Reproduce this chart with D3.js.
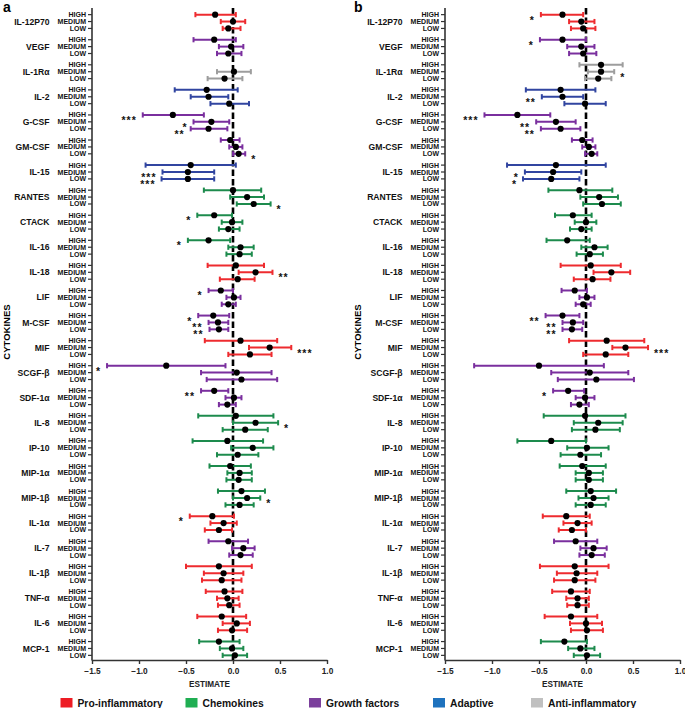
<!DOCTYPE html>
<html><head><meta charset="utf-8">
<script src="https://cdn.jsdelivr.net/npm/d3@7"></script>
<style>
body{margin:0;background:#fff;}
svg{display:block;font-family:"Liberation Sans",Arial,sans-serif;}
</style></head>
<body>
<svg id="chart" width="685" height="708"></svg>
<script>
// ---------- DATA ----------
const cytokines = ["IL-12P70","VEGF","IL-1Rα","IL-2","G-CSF","GM-CSF","IL-15","RANTES","CTACK","IL-16","IL-18","LIF","M-CSF","MIF","SCGF-β","SDF-1α","IL-8","IP-10","MIP-1α","MIP-1β","IL-1α","IL-7","IL-1β","TNF-α","IL-6","MCP-1"];
const cytokineClass = ["pro","growth","anti","adaptive","growth","growth","adaptive","chemo","chemo","chemo","pro","growth","growth","pro","growth","growth","chemo","chemo","chemo","chemo","pro","growth","pro","pro","pro","chemo"];
const levels = ["HIGH","MEDIUM","LOW"];
const classKeys = ["pro","chemo","growth","adaptive","anti"];
const classNames = ["Pro-inflammatory","Chemokines","Growth factors","Adaptive","Anti-inflammatory"];
const xTicks = [-1.5,-1.0,-0.5,0.0,0.5,1.0];

// Panel a: [HIGH, MEDIUM, LOW] per cytokine, each [low, estimate, high]
const panelA = [
 [[-0.40,-0.19,0.03],[-0.13,0.00,0.13],[-0.11,-0.05,0.08]],
 [[-0.42,-0.20,0.03],[-0.15,-0.02,0.11],[-0.17,-0.05,0.09]],
 [null,[-0.17,0.01,0.19],[-0.27,-0.09,0.10]],
 [[-0.62,-0.28,0.05],[-0.45,-0.26,-0.05],[-0.24,-0.04,0.17]],
 [[-0.96,-0.64,-0.31],[-0.42,-0.23,-0.04],[-0.45,-0.26,-0.06]],
 [[-0.13,-0.03,0.07],[-0.04,0.03,0.10],[0.00,0.06,0.13]],
 [[-0.93,-0.45,0.03],[-0.75,-0.48,-0.20],[-0.76,-0.48,-0.20]],
 [[-0.31,0.00,0.30],[-0.03,0.15,0.33],[0.04,0.22,0.40]],
 [[-0.38,-0.20,-0.01],[-0.12,-0.01,0.10],[-0.15,-0.05,0.07]],
 [[-0.48,-0.26,-0.03],[-0.05,0.08,0.22],[-0.07,0.07,0.20]],
 [[-0.27,0.03,0.33],[0.06,0.24,0.42],[-0.14,0.05,0.23]],
 [[-0.26,-0.13,0.00],[-0.07,0.01,0.08],[-0.12,-0.05,0.03]],
 [[-0.37,-0.21,-0.04],[-0.26,-0.16,-0.05],[-0.25,-0.15,-0.05]],
 [[-0.30,0.08,0.47],[0.17,0.39,0.62],[-0.05,0.18,0.41]],
 [[-1.34,-0.71,-0.08],[-0.34,0.04,0.41],[-0.28,0.09,0.47]],
 [[-0.34,-0.20,-0.05],[-0.08,0.01,0.09],[-0.15,-0.06,0.03]],
 [[-0.37,0.03,0.43],[0.00,0.24,0.48],[-0.11,0.13,0.37]],
 [[-0.43,-0.06,0.32],[-0.02,0.21,0.43],[-0.17,0.05,0.27]],
 [[-0.25,-0.03,0.19],[-0.06,0.07,0.20],[-0.07,0.06,0.20]],
 [[-0.16,0.09,0.34],[0.00,0.15,0.29],[-0.08,0.07,0.22]],
 [[-0.46,-0.22,0.01],[-0.24,-0.10,0.04],[-0.30,-0.15,-0.01]],
 [[-0.26,-0.05,0.16],[-0.01,0.11,0.23],[-0.04,0.08,0.21]],
 [[-0.50,-0.15,0.20],[-0.31,-0.10,0.11],[-0.33,-0.12,0.09]],
 [[-0.29,-0.09,0.10],[-0.17,-0.06,0.06],[-0.16,-0.04,0.07]],
 [[-0.38,-0.12,0.14],[-0.11,0.04,0.18],[-0.16,-0.01,0.15]],
 [[-0.36,-0.15,0.07],[-0.14,-0.01,0.11],[-0.11,0.02,0.15]]
];
const starsA = [
 ["","",""],["","",""],["","",""],["","",""],["***","*","**"],["","","*"],["","***","***"],["","","*"],["*","",""],["*","",""],
 ["","**",""],["*","",""],["*","**","**"],["","***",""],["*","",""],["**","",""],["","*",""],["","",""],["","",""],["","*",""],
 ["*","",""],["","",""],["","",""],["","",""],["","",""],["","",""]
];

// Panel b
const panelB = [
 [[-0.48,-0.25,-0.03],[-0.18,-0.05,0.09],[-0.16,-0.03,0.10]],
 [[-0.49,-0.25,0.00],[-0.20,-0.05,0.09],[-0.18,-0.03,0.11]],
 [[-0.07,0.16,0.39],[0.02,0.16,0.30],[-0.01,0.13,0.27]],
 [[-0.64,-0.27,0.10],[-0.47,-0.25,-0.03],[-0.23,-0.01,0.21]],
 [[-1.08,-0.73,-0.38],[-0.53,-0.32,-0.11],[-0.48,-0.27,-0.06]],
 [[-0.15,-0.04,0.07],[-0.04,0.03,0.10],[-0.01,0.06,0.12]],
 [[-0.84,-0.32,0.21],[-0.65,-0.35,-0.05],[-0.67,-0.37,-0.07]],
 [[-0.40,-0.07,0.28],[-0.06,0.14,0.34],[-0.03,0.17,0.37]],
 [[-0.33,-0.14,0.06],[-0.12,0.00,0.11],[-0.17,-0.05,0.06]],
 [[-0.42,-0.20,0.04],[-0.05,0.09,0.23],[-0.10,0.04,0.18]],
 [[-0.27,0.05,0.37],[0.08,0.27,0.47],[-0.13,0.07,0.26]],
 [[-0.26,-0.12,0.01],[-0.07,0.01,0.09],[-0.11,-0.03,0.05]],
 [[-0.43,-0.25,-0.07],[-0.25,-0.14,-0.03],[-0.25,-0.15,-0.04]],
 [[-0.18,0.22,0.62],[0.28,0.42,0.66],[-0.03,0.21,0.45]],
 [[-1.19,-0.50,0.19],[-0.37,0.04,0.45],[-0.30,0.11,0.51]],
 [[-0.35,-0.19,-0.02],[-0.11,-0.01,0.09],[-0.16,-0.07,0.03]],
 [[-0.45,-0.01,0.42],[-0.13,0.13,0.39],[-0.15,0.10,0.36]],
 [[-0.73,-0.37,0.00],[-0.20,0.01,0.24],[-0.27,-0.06,0.16]],
 [[-0.28,-0.04,0.21],[-0.11,0.03,0.18],[-0.11,0.03,0.18]],
 [[-0.21,0.05,0.32],[-0.08,0.08,0.24],[-0.11,0.05,0.21]],
 [[-0.46,-0.21,0.04],[-0.24,-0.09,0.06],[-0.29,-0.15,0.00]],
 [[-0.34,-0.11,0.12],[-0.06,0.08,0.22],[-0.07,0.06,0.20]],
 [[-0.49,-0.12,0.24],[-0.31,-0.10,0.12],[-0.34,-0.12,0.10]],
 [[-0.36,-0.16,0.04],[-0.21,-0.09,0.03],[-0.20,-0.09,0.03]],
 [[-0.44,-0.16,0.12],[-0.17,0.00,0.17],[-0.16,0.01,0.18]],
 [[-0.48,-0.23,0.01],[-0.19,-0.06,0.09],[-0.13,0.01,0.15]]
];
const starsB = [
 ["*","",""],["*","",""],["","*",""],["","**",""],["***","**","**"],["","",""],["","*","*"],["","",""],["","",""],["","",""],
 ["","",""],["","",""],["**","**","**"],["","***",""],["","",""],["*","",""],["","",""],["","",""],["","",""],["","",""],
 ["","",""],["","",""],["","",""],["","",""],["","",""],["","",""]
];

// ---------- STYLE ----------
const barColor = {pro:"#ee2b2f", chemo:"#1d8b4d", growth:"#7a2f9e", adaptive:"#3145a0", anti:"#9d9d9d"};
const legendColor = {pro:"#ed1c24", chemo:"#1fae52", growth:"#7b3f9c", adaptive:"#1e72be", anti:"#c0c0c0"};

const svg = d3.select("#chart");
const yTop = 8, yBottom = 660;

const yGroup = d3.scaleBand().domain(cytokines).range([9, 661]);
const yLevel = d3.scalePoint().domain(levels).range([-6.9, 6.9]);
const rowY = (c, l) => yGroup(c) + yGroup.bandwidth()/2 + yLevel(l);

function drawPanel(cfg) {
  const g = svg.append("g");
  const x = d3.scaleLinear().domain([-1.5, 1.0]).range([cfg.x0, cfg.x1]);

  g.append("text").attr("x", cfg.letterX).attr("y", 12).attr("font-size", 14)
    .attr("font-weight", "bold").text(cfg.letter);

  g.append("line").attr("x1", cfg.x0).attr("x2", cfg.x0).attr("y1", yTop).attr("y2", yBottom + 0.5)
    .attr("stroke", "#333").attr("stroke-width", 1.6);

  const rows = [];
  cytokines.forEach((c, i) => levels.forEach((l, j) => {
    rows.push({c, i, l, v: cfg.data[i][j], s: cfg.stars[i][j], cls: cytokineClass[i]});
  }));

  g.selectAll(".rt").data(rows).join("line")
    .attr("x1", cfg.x0 - 4).attr("x2", cfg.x0).attr("y1", d => rowY(d.c, d.l)).attr("y2", d => rowY(d.c, d.l))
    .attr("stroke", "#333").attr("stroke-width", 1.2);
  g.selectAll(".rl").data(rows).join("text")
    .attr("x", cfg.x0 - 6).attr("y", d => rowY(d.c, d.l)).attr("dy", "0.36em")
    .attr("text-anchor", "end").attr("font-size", 7).attr("font-weight", "bold").attr("fill", "#111")
    .text(d => d.l);

  g.selectAll(".cl").data(cytokines).join("text")
    .attr("x", cfg.labelX).attr("y", d => rowY(d, "MEDIUM")).attr("dy", "0.36em")
    .attr("text-anchor", "end").attr("font-size", 8.6).attr("font-weight", "bold").attr("fill", "#111")
    .text(d => d);

  g.append("text").attr("transform", `translate(${cfg.titleX},${(yTop + yBottom) / 2 - 2}) rotate(-90)`)
    .attr("text-anchor", "middle").attr("font-size", 9.5).attr("font-weight", "bold").text("CYTOKINES");

  const ax = g.append("g").attr("transform", `translate(0,${yBottom})`)
    .call(d3.axisBottom(x).tickValues(xTicks).tickFormat(d3.format(".1f")).tickSize(4).tickSizeOuter(0));
  ax.select(".domain").attr("stroke", "#333").attr("stroke-width", 1.6);
  ax.selectAll(".tick line").attr("stroke", "#333").attr("stroke-width", 1.4);
  ax.selectAll(".tick text").attr("font-size", 8.3).attr("font-weight", "bold").attr("fill", "#222")
    .attr("font-family", "Liberation Sans, Arial, sans-serif").attr("dy", "0.85em");
  g.append("text").attr("x", (cfg.x0 + cfg.x1) / 2).attr("y", 687).attr("text-anchor", "middle")
    .attr("font-size", 8.2).attr("font-weight", "bold").attr("fill", "#222").text("ESTIMATE");

  g.append("line").attr("x1", x(0)).attr("x2", x(0)).attr("y1", yTop).attr("y2", yBottom)
    .attr("stroke", "#000").attr("stroke-width", 2.6).attr("stroke-dasharray", "6.5,3");

  const present = rows.filter(d => d.v);
  const eb = g.selectAll(".eb").data(present).join("g").attr("stroke", d => barColor[d.cls]).attr("stroke-width", 2);
  eb.append("line").attr("x1", d => x(d.v[0])).attr("x2", d => x(d.v[2]))
    .attr("y1", d => rowY(d.c, d.l)).attr("y2", d => rowY(d.c, d.l));
  eb.append("line").attr("x1", d => x(d.v[0])).attr("x2", d => x(d.v[0]))
    .attr("y1", d => rowY(d.c, d.l) - 2.6).attr("y2", d => rowY(d.c, d.l) + 2.6);
  eb.append("line").attr("x1", d => x(d.v[2])).attr("x2", d => x(d.v[2]))
    .attr("y1", d => rowY(d.c, d.l) - 2.6).attr("y2", d => rowY(d.c, d.l) + 2.6);
  g.selectAll(".pt").data(present).join("circle")
    .attr("cx", d => x(d.v[1])).attr("cy", d => rowY(d.c, d.l)).attr("r", 3.1).attr("fill", "#000");

  g.selectAll(".st").data(present.filter(d => d.s)).join("text")
    .attr("x", d => d.v[1] < 0 ? x(d.v[0]) - 6 : x(d.v[2]) + 6)
    .attr("y", d => rowY(d.c, d.l) + 9)
    .attr("text-anchor", d => d.v[1] < 0 ? "end" : "start")
    .attr("font-size", 10.5).attr("font-weight", "bold").attr("letter-spacing", 1).attr("fill", "#111")
    .text(d => d.s);
}

drawPanel({data: panelA, stars: starsA, x0: 92, x1: 327, labelX: 49.5, titleX: 9.5, letter: "a", letterX: 3});
drawPanel({data: panelB, stars: starsB, x0: 445, x1: 680, labelX: 402.5, titleX: 361, letter: "b", letterX: 354});

const legendX = [60.5, 185.5, 309, 433, 531];
const lg = svg.append("g").selectAll("g").data(classKeys).join("g")
  .attr("transform", (d, i) => `translate(${legendX[i]},698)`);
lg.append("rect").attr("width", 12).attr("height", 9.5).attr("fill", d => legendColor[d]);
lg.append("text").attr("x", 17).attr("y", 8.8).attr("font-size", 10.3).attr("font-weight", "bold")
  .attr("fill", "#111").text((d, i) => classNames[i]);
</script>
</body></html>
